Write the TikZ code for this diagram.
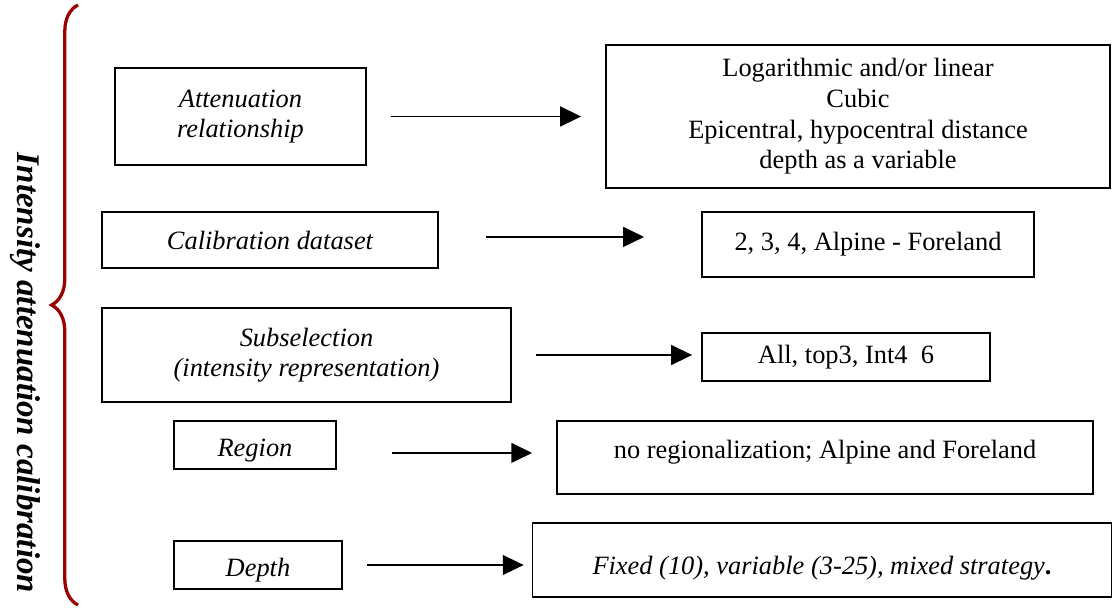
\documentclass[tikz,border=0pt]{standalone}
\usepackage{fontspec}
\setmainfont{Liberation Serif}
\usetikzlibrary{arrows.meta,decorations.pathreplacing}
\definecolor{braceRed}{RGB}{153,0,0}
\begin{document}
\begin{tikzpicture}[x=0.4545pt,y=-0.4545pt,
		box/.style={draw,line width=0.8pt,inner sep=0pt,align=center,font=\fontsize{12}{13.9}\selectfont\itshape},
		valbox/.style={draw,line width=0.8pt,inner sep=0pt,align=center,font=\fontsize{12}{13.9}\selectfont},
		link/.style={line width=0.9pt,-{Triangle[length=9.5pt,width=9pt]}}]
	\useasboundingbox (0,0) rectangle (1113,610);
	% brace and rotated title
	\draw[braceRed,line width=1.5pt,decorate,decoration={brace,amplitude=12pt}]
		(78,605) -- (78,5);
	\node[rotate=-90,font=\fontsize{15}{17}\selectfont\bfseries\itshape] (title) at (25,373)
		{Intensity attenuation calibration};
	% factor boxes
	\node[box,minimum width=114.1pt,minimum height=44.1pt] (att) at (240.5,116.5)
		{Attenuation\\relationship};
	\node[box,minimum width=152.7pt,minimum height=25.5pt] (cal) at (270,240)
		{Calibration dataset};
	\node[box,minimum width=185.9pt,minimum height=42.7pt] (sub) at (306.5,355)
		{Subselection\\(intensity representation)};
	\node[box,minimum width=73.6pt,minimum height=21.8pt,text height=2.3ex,text depth=0pt] (reg) at (255,445)
		{Region};
	\node[box,minimum width=76.4pt,minimum height=21.8pt,text height=2.3ex,text depth=0pt] (dep) at (258,565)
		{Depth};
	% option boxes
	\node[valbox,minimum width=229.1pt,minimum height=65pt] (attopt) at (858,116.5)
		{Logarithmic and/or linear\\Cubic\\Epicentral, hypocentral distance\\depth as a variable};
	\node[valbox,minimum width=150.9pt,minimum height=29.5pt] (calopt) at (868,244.5)
		{2, 3, 4, Alpine - Foreland};
	\node[valbox,minimum width=130.9pt,minimum height=21.8pt] (subopt) at (846,357)
		{All, top3, Int4\ \ 6};
	\node[valbox,minimum width=243.6pt,minimum height=33.2pt,text height=1.3ex,text depth=1.2ex] (regopt) at (825,457.5)
		{no regionalization; Alpine and Foreland};
	\node[valbox,minimum width=263.2pt,minimum height=33.6pt,text height=2.8ex,text depth=0pt] (depopt) at (822,560)
		{\itshape Fixed (10), variable (3-25), mixed strategy\textbf{\upshape.}};
	% arrows
	\draw[link,shorten <=10.9pt,shorten >=10.9pt] (att.east) -- (att.east -| attopt.west);
	\draw[link,shorten <=21.4pt,shorten >=25.9pt] ([yshift=1.4pt]cal.east) -- ([yshift=1.4pt]cal.east -| calopt.west);
	\draw[link,shorten <=10.9pt,shorten >=4.1pt] (sub.east) -- (sub.east -| subopt.west);
	\draw[link,shorten <=25pt,shorten >=10.9pt] ([yshift=-3.6pt]reg.east) -- ([yshift=-3.6pt]reg.east -| regopt.west);
	\draw[link,shorten <=10.9pt,shorten >=3.6pt] (dep.east) -- (dep.east -| depopt.west);
\end{tikzpicture}
\end{document}
